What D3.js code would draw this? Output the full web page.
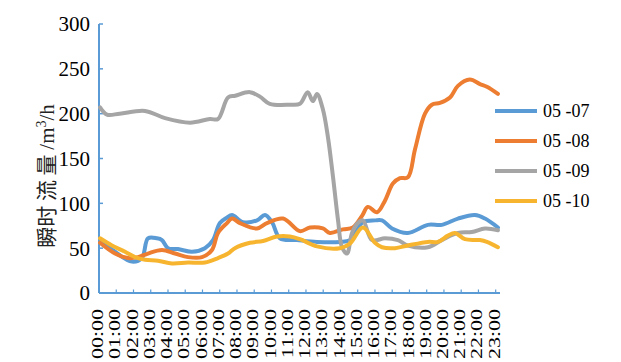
<!DOCTYPE html>
<html>
<head>
<meta charset="utf-8">
<script src="https://cdn.jsdelivr.net/npm/d3@7"></script>
<style>
  html, body { margin: 0; padding: 0; background: #fff; }
  svg { display: block; }
</style>
</head>
<body>
<svg id="chart" width="621" height="362"></svg>
<script>
// ---- data (hours since 00:00, flow m3/h) ----
const tickLabels = ["00:00","01:00","02:00","03:00","04:00","05:00","06:00","07:00","08:00","09:00","10:00","11:00",
                    "12:00","13:00","14:00","15:00","16:00","17:00","18:00","19:00","20:00","21:00","22:00","23:00"];
const yTicks = [0, 50, 100, 150, 200, 250, 300];
const seriesNames = ["05 -07", "05 -08", "05 -09", "05 -10"];
const seriesColors = ["#5B9BD5", "#ED7D31", "#A5A5A5", "#F7B52F"];

const hours0507 = [0.06,0.93,1.91,2.49,2.84,3.36,3.65,4.0,4.58,5.39,6.14,6.61,7.01,7.42,7.71,8.35,9.16,9.62,10.03,10.49,11.48,12.64,13.97,14.55,14.96,15.3,16.0,16.41,16.99,17.91,19.07,19.88,20.81,21.8,22.38,23.13];
const values0507 = [59,46,35,39,61,61,59,50,49,46,50,59,78,84,87,79,81,87,79,61,59,57,57,59,70,79,81,81,72,67,76,76,83,87,83,73];

const hours0508 = [0.06,0.93,1.68,2.26,2.84,3.65,4.41,5.16,5.97,6.55,6.9,7.42,7.71,8.17,9.16,9.74,10.67,11.65,12.23,12.98,13.39,14.14,14.72,15.25,15.59,16.12,16.58,17.04,17.45,17.91,18.32,18.9,19.3,19.77,20.35,20.81,21.5,22.09,22.49,23.13];
const values0508 = [56,44,39,40,44,48,44,40,40,48,67,78,83,78,72,78,83,69,73,72,67,71,73,86,96,90,103,122,128,129,160,200,210,212,218,231,238,233,230,222];

const hours0509 = [0.06,0.46,1.2,2.67,3.83,5.28,6.43,6.9,7.48,7.9,8.75,9.33,9.9,11.07,11.65,12.1,12.4,12.64,12.98,13.28,13.57,13.86,14.09,14.38,14.67,15.01,15.3,15.83,16.58,17.33,17.9,19.07,19.88,20.81,21.62,22.38,23.13];
const values0509 = [207,199,200,203,195,190,194,194,218,220,224,219,211,210,211,224,214,222,205,173,129,81,51,44,67,78,81,59,61,59,53,51,59,67,68,72,70];

const hours0510 = [0.06,0.75,1.51,2.09,2.67,3.42,4.23,5.16,6.14,6.9,7.48,7.88,8.75,9.51,10.32,11.07,11.65,12.64,13.97,14.55,15.3,16.0,16.41,17.16,17.91,19.07,19.65,20.23,20.64,21.22,22.09,22.49,23.13];
const values0510 = [61,53,46,40,37,36,33,34,34,39,44,50,56,58,63,63,60,52,50,55,73,56,51,50,53,57,57,64,67,60,59,57,51];

// ---- build series ----
const allHours = [hours0507, hours0508, hours0509, hours0510];
const allValues = [values0507, values0508, values0509, values0510];
const series = seriesNames.map((name, i) => ({
  name, color: seriesColors[i],
  points: allHours[i].map((h, j) => ({ h, v: allValues[i][j] }))
}));

// ---- layout ----
const svg = d3.select("#chart");
const axisColor = "#5B9BD5";
const numFont = "'Liberation Serif', 'Times New Roman', serif";

const x = d3.scaleLinear().domain([0, 23.25]).range([99, 500]);
const y = d3.scaleLinear().domain([0, 300]).range([293, 24]);

// axes lines
svg.append("line").attr("x1", x(0)).attr("x2", x(0)).attr("y1", y(300)).attr("y2", y(0))
  .attr("stroke", axisColor).attr("stroke-width", 2);
svg.append("line").attr("x1", x(0)).attr("x2", 500).attr("y1", y(0)).attr("y2", y(0))
  .attr("stroke", axisColor).attr("stroke-width", 2);

// y ticks (inward)
svg.selectAll(".yt").data(yTicks).enter().append("line")
  .attr("x1", x(0)).attr("x2", x(0) + 4)
  .attr("y1", d => y(d)).attr("y2", d => y(d))
  .attr("stroke", axisColor).attr("stroke-width", 1.5);
svg.selectAll(".yl").data(yTicks).enter().append("text")
  .attr("x", 90).attr("y", d => y(d))
  .attr("dy", "0.35em")
  .attr("text-anchor", "end")
  .attr("font-family", numFont).attr("font-size", 21).attr("fill", "#000")
  .text(d => d);

// x ticks (inward)
const tickHours = tickLabels.map((t, i) => i);
svg.selectAll(".xt").data(tickHours.slice(1)).enter().append("line")
  .attr("x1", d => x(d)).attr("x2", d => x(d))
  .attr("y1", y(0)).attr("y2", y(0) - 3.5)
  .attr("stroke", axisColor).attr("stroke-width", 1.2);
svg.selectAll(".xl").data(tickLabels).enter().append("text")
  .attr("transform", (d, i) => `translate(${x(i) - 1.5},309) scale(0.72,1) rotate(-90)`)
  .attr("dy", "0.35em")
  .attr("text-anchor", "end")
  .attr("font-family", numFont).attr("font-size", 22).attr("fill", "#000")
  .text(d => d);

// y axis title
const title = svg.append("text")
  .attr("transform", "translate(54,176) rotate(-90)")
  .attr("text-anchor", "middle")
  .attr("font-size", 21).attr("fill", "#222");
title.append("tspan").attr("font-family", "'Noto Sans CJK SC', sans-serif").text("瞬时 流 量 ");
title.append("tspan").attr("font-family", numFont).text("/m");
title.append("tspan").attr("font-family", numFont).attr("font-size", 14).attr("dy", -8).text("3");
title.append("tspan").attr("font-family", numFont).attr("dy", 8).text("/h");

// lines
const line = d3.line().x(d => x(d.h)).y(d => y(d.v)).curve(d3.curveCatmullRom.alpha(0.5));
svg.selectAll(".series").data(series).enter().append("path")
  .attr("d", d => line(d.points))
  .attr("fill", "none")
  .attr("stroke", d => d.color)
  .attr("stroke-width", 4)
  .attr("stroke-linejoin", "round")
  .attr("stroke-linecap", "round");

// legend
const leg = svg.selectAll(".leg").data(series).enter().append("g")
  .attr("transform", (d, i) => `translate(0,${111 + i * 30})`);
leg.append("line").attr("x1", 495).attr("x2", 537).attr("y1", 0).attr("y2", 0)
  .attr("stroke", d => d.color).attr("stroke-width", 4);
leg.append("text").attr("x", 543).attr("y", 0).attr("dy", "0.35em")
  .attr("font-family", numFont).attr("font-size", 18).attr("fill", "#000")
  .text(d => d.name);
</script>
</body>
</html>
